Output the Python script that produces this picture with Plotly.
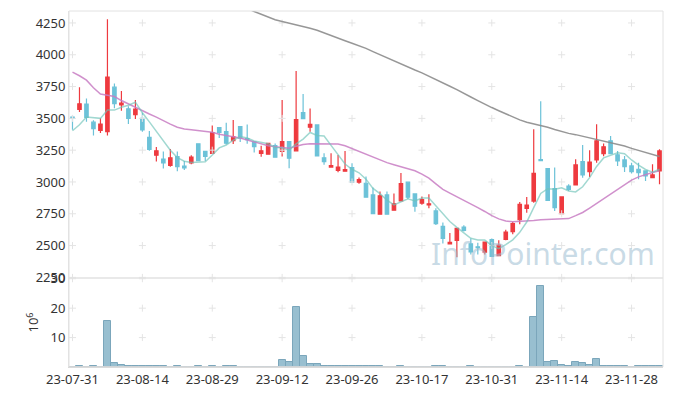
import plotly.graph_objects as go

dates = ["23-07-31","23-08-01","23-08-02","23-08-03","23-08-04","23-08-07","23-08-08","23-08-09","23-08-10","23-08-11",
         "23-08-14","23-08-16","23-08-17","23-08-18","23-08-21","23-08-22","23-08-23","23-08-24","23-08-25","23-08-28",
         "23-08-29","23-08-30","23-08-31","23-09-01","23-09-04","23-09-05","23-09-06","23-09-07","23-09-08","23-09-11",
         "23-09-12","23-09-13","23-09-14","23-09-15","23-09-18","23-09-19","23-09-20","23-09-21","23-09-22","23-09-25",
         "23-09-26","23-09-27","23-10-04","23-10-05","23-10-06","23-10-10","23-10-11","23-10-12","23-10-13","23-10-16",
         "23-10-17","23-10-18","23-10-19","23-10-20","23-10-23","23-10-24","23-10-25","23-10-26","23-10-27","23-10-30",
         "23-10-31","23-11-01","23-11-02","23-11-03","23-11-06","23-11-07","23-11-08","23-11-09","23-11-10","23-11-13",
         "23-11-14","23-11-15","23-11-16","23-11-17","23-11-20","23-11-21","23-11-22","23-11-23","23-11-24","23-11-27",
         "23-11-28","23-11-29","23-11-30","23-12-01","23-12-04"]

open_ = [3510,3570,3612,3470,3405,3395,3745,3605,3575,3530,
         3500,3350,3210,3180,3130,3200,3125,3150,3300,3240,
         3225,3427,3395,3325,3435,3340,3315,3225,3218,3285,
         3240,3317,3245,3545,3430,3448,3190,3117,3090,3085,
         3113,2998,2990,2898,2747,2898,2778,2851,2998,2906,
         2833,2820,2772,2651,2514,2541,2646,2514,2490,2449,
         2546,2420,2548,2609,2703,2793,2850,3175,3105,2948,
         2751,2968,2976,3160,3081,3173,3223,3323,3213,3173,
         3126,3100,3087,3034,3087]
high = [3525,3745,3656,3485,3500,4280,3775,3715,3595,3645,
        3545,3400,3275,3240,3260,3240,3165,3210,3305,3245,
        3443,3430,3465,3488,3438,3452,3320,3285,3306,3302,
        3645,3320,3873,3692,3578,3450,3225,3225,3212,3244,
        3147,3035,3042,2956,2925,2925,2909,3071,3000,2910,
        2885,2903,2793,2682,2598,2638,2660,2556,2522,2530,
        2556,2541,2625,2688,2843,2882,3415,3635,3108,3113,
        2885,2982,3178,3291,3249,3454,3302,3362,3244,3205,
        3152,3152,3090,3139,3257]
low = [3410,3550,3474,3365,3385,3365,3580,3560,3455,3495,
       3395,3245,3160,3105,3120,3085,3095,3140,3165,3165,
       3222,3345,3295,3298,3315,3300,3232,3198,3216,3192,
       3200,3108,3240,3495,3395,3200,3135,3113,3076,3082,
       2995,2985,2878,2748,2745,2745,2776,2848,2867,2765,
       2820,2793,2661,2517,2512,2409,2610,2430,2430,2430,
       2413,2418,2541,2588,2667,2758,2837,3165,2853,2772,
       2749,2929,2974,3034,3039,3152,3202,3220,3126,3079,
       3066,3021,3008,3029,2982]
close = [3500,3615,3508,3420,3455,3825,3615,3620,3500,3573,
         3410,3255,3245,3150,3190,3120,3110,3195,3168,3200,
         3388,3390,3305,3355,3345,3332,3278,3245,3304,3195,
         3317,3187,3490,3497,3452,3205,3160,3128,3117,3097,
         2998,3019,2880,2750,2891,2747,2828,2987,2880,2810,
         2862,2828,2672,2556,2525,2635,2620,2451,2484,2527,
         2415,2504,2606,2672,2824,2819,3068,3168,2856,2798,
         2882,2942,3134,3055,3157,3323,3276,3223,3165,3121,
         3081,3074,3047,3055,3244]

volume = [0.05,0.5,0.05,0.25,0.05,15.6,1.2,0.55,0.25,0.25,
          0.25,0.25,0.25,0.25,0.05,0.25,0.05,0.05,0.25,0.05,
          0.5,0.05,0.25,0.25,0.05,0.05,0.05,0.05,0.05,0.05,
          2.5,1.6,20.3,3.6,0.9,0.9,0.25,0.25,0.25,0.25,
          0.25,0.25,0.25,0.25,0.25,0.05,0.05,0.25,0.05,0.05,
          0.05,0.05,0.25,0.25,0.05,0.05,0.05,0.25,0.05,0.05,
          0.05,0.05,0.05,0.05,0.3,0.05,17.0,27.6,1.6,2.0,
          0.6,0.3,1.7,1.4,0.6,2.7,0.25,0.25,0.25,0.25,
          0.05,0.25,0.25,0.25,0.5]

ma5 = [3403,3450,3510,3505,3500,3565,3565,3587,3603,3627,
       3544,3472,3397,3327,3250,3192,3163,3153,3157,3159,
       3212,3268,3290,3328,3357,3345,3323,3311,3301,3271,
       3268,3250,3299,3337,3389,3366,3361,3288,3212,3141,
       3100,3072,3022,2949,2908,2857,2819,2841,2867,2850,
       2873,2873,2810,2746,2689,2643,2602,2557,2543,2543,
       2499,2476,2507,2545,2604,2685,2798,2910,2947,2942,
       2954,2929,2922,2962,3034,3122,3189,3207,3229,3222,
       3173,3133,3098,3076,3100]

ma20 = [3863,3835,3800,3740,3692,3682,3672,3640,3612,3590,
        3560,3534,3510,3480,3455,3430,3416,3410,3405,3398,
        3390,3375,3363,3355,3345,3330,3318,3298,3285,3276,
        3270,3265,3280,3295,3300,3300,3300,3300,3298,3285,
        3262,3243,3220,3195,3172,3152,3136,3120,3105,3088,
        3062,3030,2985,2942,2912,2885,2855,2825,2798,2768,
        2735,2710,2693,2688,2690,2693,2698,2703,2705,2705,
        2708,2712,2735,2760,2795,2832,2872,2910,2948,2985,
        3015,3040,3058,3074,3087]

ma60 = [None]*23 + [4410,4385,4365,4340,4318,4295,4275,
        4262,4250,4235,4222,4208,4192,4170,4150,4132,4110,
        4090,4072,4050,4025,4000,3975,3950,3930,3905,3880,
        3858,3830,3805,3780,3752,3726,3695,3668,3640,3610,
        3585,3560,3535,3510,3488,3470,3458,3445,3430,3412,
        3395,3382,3372,3360,3345,3332,3320,3308,3296,3283,
        3264,3249,3232,3215,3200]

price_ticks = [2250,2500,2750,3000,3250,3500,3750,4000,4250]
vol_ticks = [10,20,30]
x_ticks = dates[0:85:10]

RED = "#EE3A3F"
BLUE = "#6CC2D8"
GRID = "#e4e4e4"
FONT = "Noto Sans"

fig = go.Figure()

gx, gy = [], []
for xv in x_ticks:
    for yv in price_ticks:
        gx.append(xv); gy.append(yv)
fig.add_trace(go.Scatter(x=gx, y=gy, mode="markers", xaxis="x", yaxis="y",
                         marker=dict(symbol="cross-thin", size=5, line=dict(color=GRID, width=1)),
                         hoverinfo="skip", showlegend=False))
vx, vy = [], []
for xv in x_ticks:
    for yv in vol_ticks:
        vx.append(xv); vy.append(yv)
fig.add_trace(go.Scatter(x=vx, y=vy, mode="markers", xaxis="x", yaxis="y2",
                         marker=dict(symbol="cross-thin", size=5, line=dict(color=GRID, width=1)),
                         hoverinfo="skip", showlegend=False))

fig.add_trace(go.Candlestick(x=dates, open=open_, high=high, low=low, close=close,
                             xaxis="x", yaxis="y", whiskerwidth=0,
                             increasing=dict(line=dict(color=RED, width=1.2), fillcolor=RED),
                             decreasing=dict(line=dict(color=BLUE, width=1.2), fillcolor=BLUE),
                             showlegend=False))

fig.add_trace(go.Scatter(x=dates, y=ma60, mode="lines", xaxis="x", yaxis="y",
                         line=dict(color="rgba(140,140,140,0.9)", width=1.5), showlegend=False))
fig.add_trace(go.Scatter(x=dates, y=ma20, mode="lines", xaxis="x", yaxis="y",
                         line=dict(color="rgba(200,125,195,0.85)", width=1.5), showlegend=False))
fig.add_trace(go.Scatter(x=dates, y=ma5, mode="lines", xaxis="x", yaxis="y",
                         line=dict(color="rgba(110,195,185,0.65)", width=1.5), showlegend=False))

fig.add_trace(go.Bar(x=dates, y=volume, xaxis="x", yaxis="y2",
                     marker=dict(color="#98BFD0", line=dict(color="#7BA6BB", width=1)),
                     showlegend=False))

fig.update_layout(
    width=673, height=396, autosize=False,
    margin=dict(l=69, r=10, t=11, b=29, pad=0, autoexpand=False),
    paper_bgcolor="white", plot_bgcolor="white",
    bargap=0, showlegend=False,
    font=dict(family=FONT, size=13, color="#333"),
    xaxis=dict(type="category", categoryorder="array", categoryarray=dates,
               range=[-0.5, 84.5], anchor="y2", domain=[0, 1], automargin=False,
               tickvals=x_ticks, ticktext=x_ticks, showgrid=False, zeroline=False,
               showline=True, linecolor="#d8d8d8", ticks="", rangeslider=dict(visible=False),
               tickfont=dict(size=13, color="#333")),
    yaxis=dict(domain=[0.25, 1], range=[2245, 4344], tickvals=price_ticks, automargin=False,
               showgrid=False, zeroline=False, showline=True, linecolor="#e2e2e2",
               ticks="", tickfont=dict(size=13, color="#333"), anchor="x"),
    yaxis2=dict(domain=[0, 0.25], range=[0, 30.25], tickvals=vol_ticks, automargin=False,
                showgrid=False, zeroline=False, showline=True, linecolor="#e2e2e2",
                ticks="", tickfont=dict(size=13, color="#333"), anchor="x",
                title=dict(text="10<sup>6</sup>", font=dict(size=13, color="#333"), standoff=8)),
    shapes=[
        dict(type="rect", xref="paper", yref="paper", x0=0, x1=1, y0=0, y1=1,
             line=dict(color="#e2e2e2", width=1), layer="above"),
        dict(type="line", xref="paper", yref="paper", x0=0, x1=1, y0=0.25, y1=0.25,
             line=dict(color="#e2e2e2", width=1.5), layer="above"),
        dict(type="line", xref="paper", yref="paper", x0=0, x1=1, y0=0, y1=0,
             line=dict(color="#d8d8d8", width=1.5), layer="above"),
    ],
    annotations=[
        dict(text="InfoPointer.com", xref="paper", yref="paper", x=0.99, y=0.318,
             xanchor="right", yanchor="middle", showarrow=False,
             font=dict(family=FONT, size=30, color="rgba(155,188,208,0.55)")),
    ],
)

fig.write_html("out.html", config={"displayModeBar": False},
               post_script="document.body.style.margin='0px';document.body.style.overflow='hidden';")
